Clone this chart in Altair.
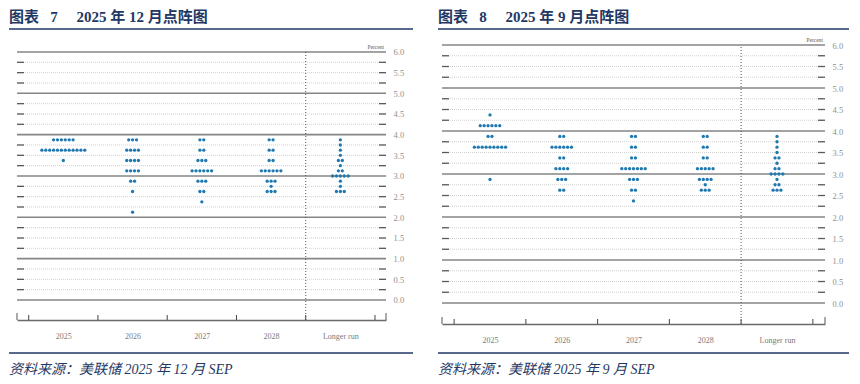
import json
import altair as alt
import pandas as pd

categories = ["2025", "2026", "2027", "2028", "Longer run"]

# December 2025 SEP: target-rate midpoints and number of participants at each
dec_2025_rates = [3.875, 3.625, 3.375]
dec_2025_counts = [6, 12, 1]
dec_2026_rates = [3.875, 3.625, 3.375, 3.125, 2.875, 2.625, 2.125]
dec_2026_counts = [3, 4, 4, 4, 2, 1, 1]
dec_2027_rates = [3.875, 3.625, 3.375, 3.125, 2.875, 2.625, 2.375]
dec_2027_counts = [2, 2, 3, 6, 3, 2, 1]
dec_2028_rates = [3.875, 3.625, 3.375, 3.125, 2.875, 2.75, 2.625]
dec_2028_counts = [2, 2, 2, 6, 3, 1, 3]
dec_lr_rates = [3.875, 3.75, 3.625, 3.5, 3.375, 3.25, 3.125, 3.0, 2.875, 2.75, 2.625]
dec_lr_counts = [1, 1, 1, 1, 2, 1, 2, 5, 1, 1, 3]

# September 2025 SEP
sep_2025_rates = [4.375, 4.125, 3.875, 3.625, 2.875]
sep_2025_counts = [1, 6, 2, 9, 1]
sep_2026_rates = [3.875, 3.625, 3.375, 3.125, 2.875, 2.625]
sep_2026_counts = [2, 6, 2, 4, 3, 2]
sep_2027_rates = [3.875, 3.625, 3.375, 3.125, 2.875, 2.625, 2.375]
sep_2027_counts = [2, 2, 2, 7, 3, 2, 1]
sep_2028_rates = [3.875, 3.625, 3.375, 3.125, 2.875, 2.75, 2.625]
sep_2028_counts = [2, 2, 2, 5, 4, 1, 3]
sep_lr_rates = [3.875, 3.75, 3.625, 3.5, 3.375, 3.25, 3.125, 3.0, 2.875, 2.75, 2.625]
sep_lr_counts = [1, 1, 1, 1, 2, 1, 2, 4, 1, 2, 3]

y_labels = [0.0, 0.5, 1.0, 1.5, 2.0, 2.5, 3.0, 3.5, 4.0, 4.5, 5.0, 5.5, 6.0]
grid_levels = [i / 4 for i in range(25)]

titles = ["图表\u2002\u00a07\u2003\u00a02025 年 12 月点阵图", "图表\u2002\u00a08\u2003\u00a02025 年 9 月点阵图"]
sources = ["资料来源：美联储 2025 年 12 月 SEP", "资料来源：美联储 2025 年 9 月 SEP"]

NAVY = "#1F3864"
DOT = "#1f78b0"
SERIF = "Liberation Serif, Times New Roman, serif"
CJK = "Liberation Serif, Noto Sans CJK SC, serif"


def one_row():
    return pd.DataFrame({"k": [0]})


def panel(rate_lists, count_lists, title, source, W, H, xdom, ydom, left_x, right_x):
    px_x = W / (xdom[1] - xdom[0])
    px_y = H / (ydom[1] - ydom[0])
    step = 3.9 / px_x
    rows = []
    for ci, (rates, counts) in enumerate(zip(rate_lists, count_lists)):
        for r, n in zip(rates, counts):
            for j in range(n):
                rows.append({"pos": ci + (j - (n - 1) / 2) * step, "rate": r})
    dots_df = pd.DataFrame(rows)

    xs = alt.Scale(domain=xdom, nice=False, zero=False)
    ys = alt.Scale(domain=ydom, nice=False, zero=False)
    label_expr = json.dumps(categories) + "[datum.value]"
    xa = alt.Axis(values=list(range(len(categories))), labelExpr=label_expr, ticks=False, grid=False,
                  domainColor="#6a6a6a", domainWidth=1.6, labelColor="#7a7a7a", labelFont=SERIF,
                  labelFontSize=8, labelPadding=12, labelFlush=False, title=None)
    ya = alt.Axis(orient="right", values=y_labels, format=".1f", ticks=False, grid=False, domain=False,
                  labelColor="#8f8f8f", labelFont=SERIF, labelFontSize=8.5, labelPadding=7,
                  labelFlush=False, title=None)

    def X(f):
        return alt.X(f, scale=xs, axis=xa)

    def Y(f):
        return alt.Y(f, scale=ys, axis=ya)

    major_df = pd.DataFrame({"level": [l for l in grid_levels if l % 1 == 0]})
    minor_df = pd.DataFrame({"level": [l for l in grid_levels if l % 1 != 0]})
    for d in (major_df, minor_df):
        d["x0"] = xdom[0]
        d["x1"] = xdom[1]
        d["xl"] = xdom[0] + 7 / px_x
        d["xr"] = xdom[1] - 7 / px_x

    minor = alt.Chart(minor_df).mark_rule(color="#cdcdcd", strokeWidth=0.9, strokeDash=[1, 1]).encode(
        x=X("x0:Q"), x2="x1:Q", y=Y("level:Q"))
    major = alt.Chart(major_df).mark_rule(color="#858585", strokeWidth=1.6).encode(
        x=X("x0:Q"), x2="x1:Q", y=Y("level:Q"))
    tick_l = alt.Chart(minor_df).mark_rule(color="#5a5a5a", strokeWidth=1.3).encode(
        x=X("x0:Q"), x2="xl:Q", y=Y("level:Q"))
    tick_r = alt.Chart(minor_df).mark_rule(color="#5a5a5a", strokeWidth=1.3).encode(
        x=X("xr:Q"), x2="x1:Q", y=Y("level:Q"))

    bounds_df = pd.DataFrame({"b": [i - 0.5 for i in range(len(categories) + 1)]})
    bounds_df["y0"] = ydom[0]
    bounds_df["y1"] = ydom[0] + 5 / px_y
    btick = alt.Chart(bounds_df).mark_rule(color="#444", strokeWidth=1).encode(
        x=X("b:Q"), y=Y("y0:Q"), y2="y1:Q")
    posts_df = pd.DataFrame({"b": list(xdom), "y0": ydom[0], "y1": ydom[0] + 7 / px_y})
    posts = alt.Chart(posts_df).mark_rule(color="#555", strokeWidth=1).encode(
        x=X("b:Q"), y=Y("y0:Q"), y2="y1:Q")

    sep_df = pd.DataFrame({"b": [len(categories) - 1.5], "y0": [ydom[0]], "y1": [max(y_labels)]})
    sep = alt.Chart(sep_df).mark_rule(color="#555", strokeWidth=1, strokeDash=[1, 2]).encode(
        x=X("b:Q"), y=Y("y0:Q"), y2="y1:Q")

    dots = alt.Chart(dots_df).mark_circle(size=11, color=DOT, opacity=1).encode(
        x=X("pos:Q"), y=Y("rate:Q"))

    pct_df = pd.DataFrame({"x": [xdom[1] - 2 / px_x], "y": [max(y_labels) + 2 / px_y], "t": ["Percent"]})
    pct = alt.Chart(pct_df).mark_text(align="right", baseline="bottom", fontSize=5.5, color="#555",
                                      font=SERIF).encode(
        x=X("x:Q"), y=Y("y:Q"), text="t:N")

    ttl = alt.Chart(pd.DataFrame({"t": [title]})).mark_text(
        align="left", baseline="top", font=CJK, fontSize=15, fontWeight="bold", color=NAVY).encode(
        x=alt.value(left_x), y=alt.value(-35), text="t:N")
    top_line = alt.Chart(one_row()).mark_rule(color=NAVY, strokeWidth=1.5).encode(
        x=alt.value(left_x), x2=alt.value(right_x), y=alt.value(-16))
    bot_line = alt.Chart(one_row()).mark_rule(color=NAVY, strokeWidth=1.5).encode(
        x=alt.value(left_x), x2=alt.value(right_x), y=alt.value(308))
    src = alt.Chart(pd.DataFrame({"t": [source]})).mark_text(
        align="left", baseline="middle", font=CJK, fontSize=14, fontStyle="italic", color=NAVY).encode(
        x=alt.value(left_x), y=alt.value(325), text="t:N")

    return alt.layer(minor, major, tick_l, tick_r, btick, posts, sep, dots, pct,
                     ttl, top_line, bot_line, src).properties(width=W, height=H)


left = panel(
    [dec_2025_rates, dec_2026_rates, dec_2027_rates, dec_2028_rates, dec_lr_rates],
    [dec_2025_counts, dec_2026_counts, dec_2027_counts, dec_2028_counts, dec_lr_counts],
    titles[0], sources[0], W=369, H=275, xdom=[-0.669, 4.659], ydom=[-0.484, 6.169],
    left_x=-8, right_x=396)
right = panel(
    [sep_2025_rates, sep_2026_rates, sep_2027_rates, sep_2028_rates, sep_lr_rates],
    [sep_2025_counts, sep_2026_counts, sep_2027_counts, sep_2028_counts, sep_lr_counts],
    titles[1], sources[1], W=383, H=279, xdom=[-0.669, 4.669], ydom=[-0.488, 6.0],
    left_x=-4, right_x=407)

chart = alt.hconcat(left, right, spacing=56, bounds="flush").configure_view(stroke=None).properties(
    padding={"top": 2, "left": 0, "right": 0, "bottom": 0})

chart.save("out.html", embed_options={"renderer": "svg", "actions": False})
